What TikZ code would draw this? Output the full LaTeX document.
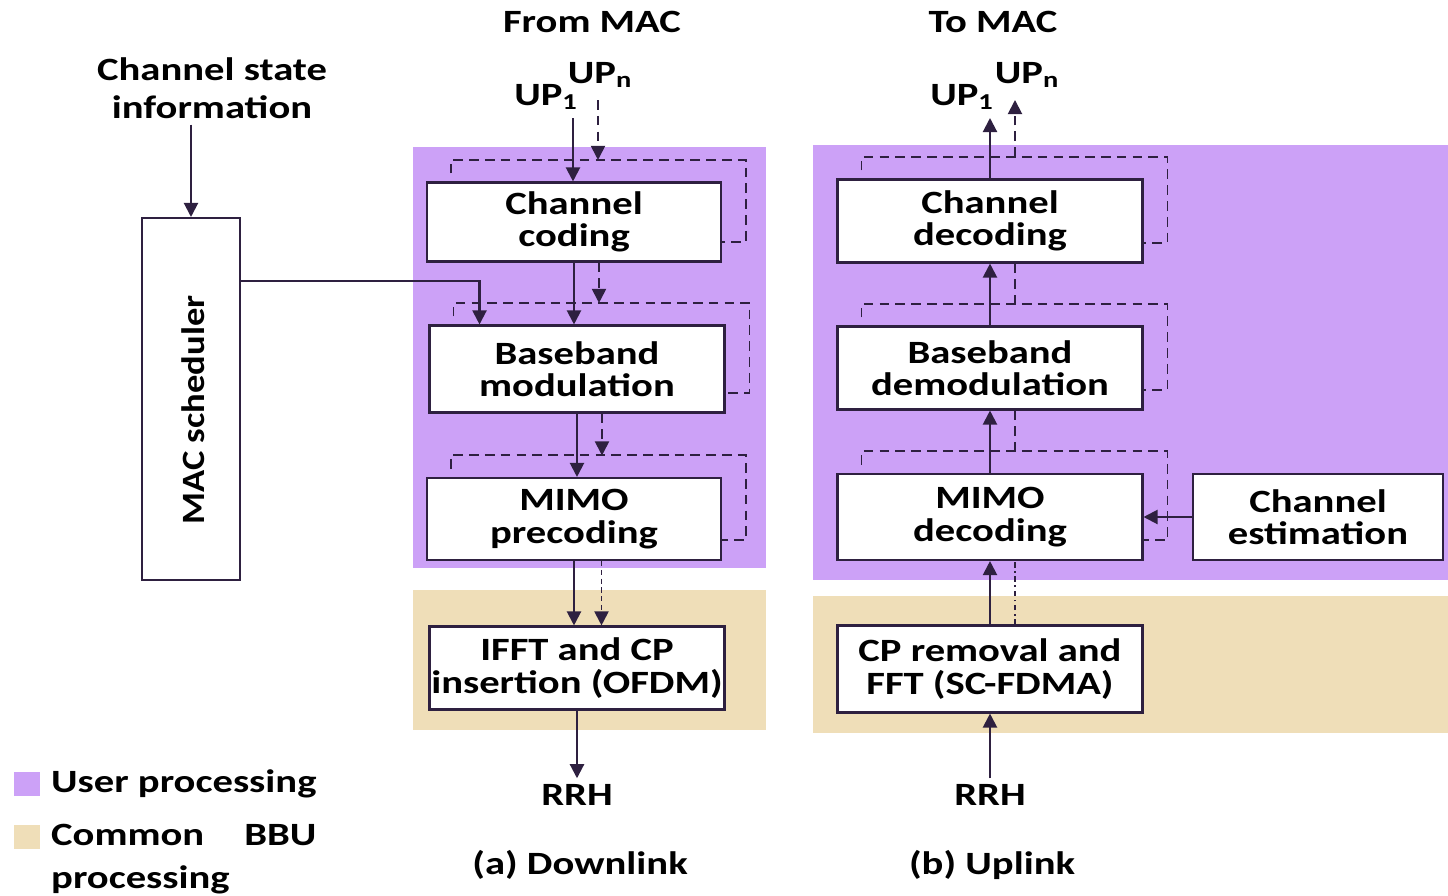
\documentclass[tikz,border=0pt]{standalone}
\usepackage{fontspec}
\setmainfont{Carlito}[FakeStretch=1.25]
\usepackage{tikz}
\usetikzlibrary{arrows.meta}

\definecolor{userpurple}{RGB}{204,161,247}
\definecolor{commontan}{RGB}{239,222,184}
\definecolor{linedark}{RGB}{46,32,64}

\tikzset{
	lbl/.style={font=\bfseries\fontsize{18.5}{18.5}\selectfont, align=center, text=black},
	proc/.style={lbl, draw=linedark, line width=1.2pt, fill=white, inner sep=0pt},
	arr/.style={draw=linedark, line width=1.2pt, -{Triangle[width=8pt,length=8pt]}},
	dsh/.style={draw=linedark, line width=1.1pt, dash pattern=on 5.5pt off 3.5pt},
}

% dashed feedback loop round a block
\newcommand{\loopround}[1]{
	\coordinate (#1-top) at ([yshift=0.43cm]#1.north);
	\draw[dsh] ([xshift=0.5cm,yshift=0.16cm]#1.north west) |- ([xshift=0.48cm,yshift=0.43cm]#1.north east) |- ([yshift=0.42cm]#1.south east);
}

\begin{document}
\begin{tikzpicture}[x=0.02cm, y=-0.02cm]
	\useasboundingbox (0,0) rectangle (1448,896);
	% processing areas
	\fill[userpurple] (413,147) rectangle (766,568);
	\fill[commontan] (413,590) rectangle (766,730);
	\fill[userpurple] (813,145) rectangle (1448,580);
	\fill[commontan] (813,596) rectangle (1448,733);

	% downlink
	\node[lbl] (from) at (592,22) {From MAC};
	\node[lbl] (up1a) at (546,97) {UP\textsubscript{1}};
	\node[lbl] (upna) at (600,75) {UP\textsubscript{n}};
	\coordinate (in1) at (573,118);
	\coordinate (inn) at (598,100);
	\node[proc, minimum width=5.88cm, minimum height=1.58cm] (cc) at (574,222) {Channel\\coding};
	\node[proc, minimum width=5.9cm, minimum height=1.74cm] (bm) at (577,369) {Baseband\\modulation};
	\node[proc, minimum width=5.88cm, minimum height=1.64cm] (mp) at (574,519) {MIMO\\precoding};
	\node[proc, minimum width=5.9cm, minimum height=1.66cm] (ifft) at (577,668) {IFFT and CP\\insertion (OFDM)};
	\node[lbl] (rrha) at (577,795) {RRH};
	\node[lbl] (dl) at (580,865) {(a) Downlink};
	\loopround{cc}
	\loopround{bm}
	\loopround{mp}
	\draw[arr] (in1) -- (in1 |- cc.north);
	\draw[arr, dsh] (inn) -- (inn |- cc-top);
	\draw[arr] (cc.south) -- (cc.south |- bm.north);
	\draw[arr, dsh] ([xshift=0.5cm]cc.south) -- ([xshift=0.5cm]cc.south |- bm-top);
	\draw[arr] (bm.south) -- (bm.south |- mp.north);
	\draw[arr, dsh] ([xshift=0.5cm]bm.south) -- ([xshift=0.5cm]bm.south |- mp-top);
	\draw[arr] (mp.south) -- (mp.south |- ifft.north);
	\draw[arr, dsh, dash pattern=on 3pt off 2pt] ([xshift=0.55cm]mp.south) -- ([xshift=0.55cm]mp.south |- ifft.north);
	\draw[arr] (ifft.south) -- (rrha.north);

	% scheduler
	\node[lbl] (csi) at (212,88) {Channel state\\[3pt]information};
	\node[proc, minimum width=1.96cm, minimum height=7.24cm] (mac) at (191,399) {};
	\node[lbl, rotate=90] (macl) at (193,410) {\scalebox{0.9}[1]{MAC scheduler}};
	\draw[arr] (csi.south -| mac.north) -- (mac.north);
	\draw[arr] ([yshift=-1.28cm]mac.north east) -| ([xshift=-1.95cm]bm.north);

	% uplink
	\node[lbl] (to) at (993,22) {To MAC};
	\node[lbl] (up1b) at (962,97) {UP\textsubscript{1}};
	\node[lbl] (upnb) at (1027,75) {UP\textsubscript{n}};
	\coordinate (out1) at (990,118);
	\coordinate (outn) at (1015,100);
	\node[proc, minimum width=6.1cm, minimum height=1.66cm] (cd) at (990,221) {Channel\\decoding};
	\node[proc, minimum width=6.1cm, minimum height=1.66cm] (bd) at (990,368) {Baseband\\demodulation};
	\node[proc, minimum width=6.1cm, minimum height=1.72cm] (md) at (990,517) {MIMO\\decoding};
	\node[proc, minimum width=5.0cm, minimum height=1.72cm] (ce) at (1318,517) {Channel\\estimation};
	\node[proc, minimum width=6.1cm, minimum height=1.74cm] (cp) at (990,669) {CP removal and\\FFT (SC-FDMA)};
	\node[lbl] (rrhb) at (990,795) {RRH};
	\node[lbl] (ul) at (992,865) {(b) Uplink};
	\loopround{cd}
	\loopround{bd}
	\loopround{md}
	\draw[arr] (cd.north) -- (out1);
	\draw[arr, dsh] (outn |- cd-top) -- (outn);
	\draw[arr] (bd.north) -- (bd.north |- cd.south);
	\draw[dsh] ([xshift=0.5cm]cd.south) -- ([xshift=0.5cm]cd.south |- bd-top);
	\draw[arr] (md.north) -- (md.north |- bd.south);
	\draw[dsh] ([xshift=0.5cm]bd.south) -- ([xshift=0.5cm]bd.south |- md-top);
	\draw[arr] (cp.north) -- (cp.north |- md.south);
	\draw[draw=linedark, line width=1.1pt, dash dot] ([xshift=0.5cm]cp.north) -- ([xshift=0.5cm]cp.north |- md.south);
	\draw[arr] (ce.west) -- (md.east);
	\draw[arr] (rrhb.north) -- (cp.south);

	% legend
	\fill[userpurple] (14,772) rectangle (40,796);
	\node[lbl, anchor=west] (leguser) at (45,784) {User processing};
	\fill[commontan] (14,825) rectangle (40,849);
	\node[lbl, anchor=west] (legcom) at (45,835) {Common\hspace{0.8cm}BBU};
	\node[lbl, anchor=west] (legcom2) at (45,880) {processing};
\end{tikzpicture}
\end{document}
